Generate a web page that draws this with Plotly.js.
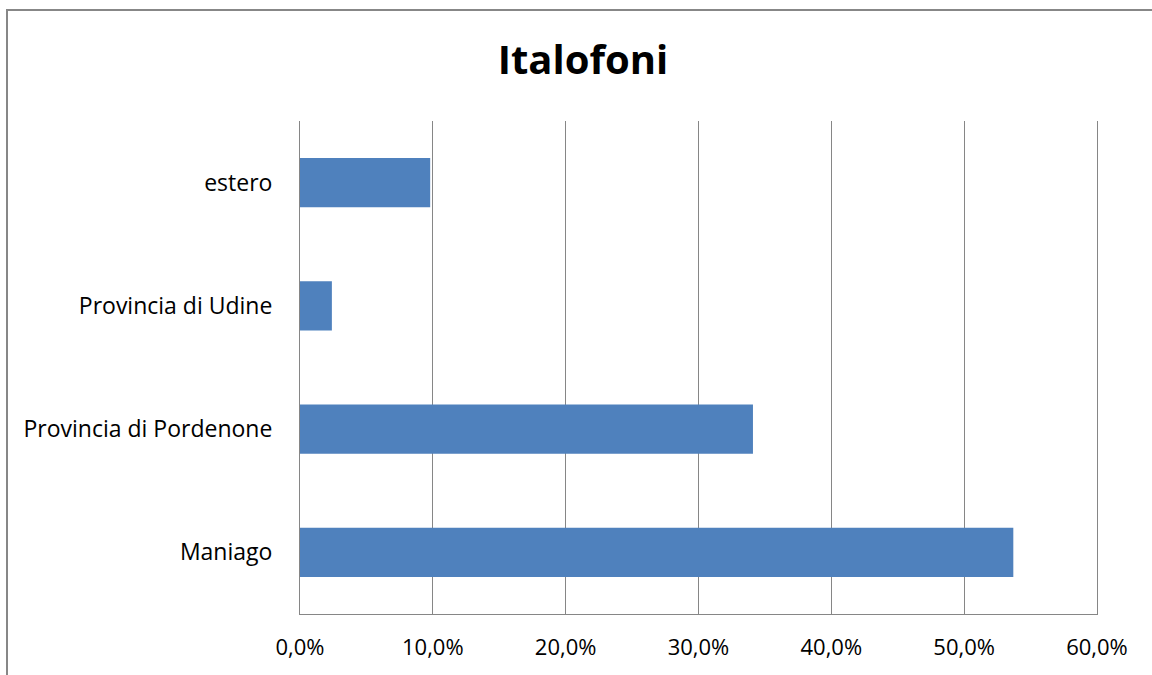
<!DOCTYPE html>
<html>
<head>
<meta charset="utf-8">
<script src="https://cdn.plot.ly/plotly-3.0.1.min.js"></script>
<style>
  html, body { margin: 0; padding: 0; background: #fff; }
  #chart { width: 1152px; height: 675px; }
  #frame { position: absolute; left: 6px; top: 9px; width: 1200px; height: 700px;
           border-left: 2px solid #878787; border-top: 2px solid #878787; pointer-events: none; }
</style>
</head>
<body>
<div id="chart"></div>
<div id="frame"></div>
<script>
const categories = ["Maniago", "Provincia di Pordenone", "Provincia di Udine", "estero"];
const values = [0.537, 0.341, 0.024, 0.098];
const xTicks = [0, 0.1, 0.2, 0.3, 0.4, 0.5, 0.6];
const chartTitle = "Italofoni";

const trace = {
  type: "bar",
  orientation: "h",
  y: categories,
  x: values,
  marker: { color: "#4F81BD", line: { width: 0 } },
  hoverinfo: "x+y"
};

const layout = {
  width: 1152,
  height: 675,
  margin: { l: 300, r: 55, t: 121, b: 61, pad: 0 },
  paper_bgcolor: "#ffffff",
  plot_bgcolor: "#ffffff",
  separators: ",.",
  showlegend: false,
  bargap: 0.6,
  font: { family: "Open Sans, sans-serif", size: 23, color: "#000000" },
  title: {
    text: "<b>" + chartTitle + "</b>",
    font: { family: "Open Sans, sans-serif", size: 40, color: "#000000" },
    x: 0.506, xanchor: "center",
    y: 1 - 60 / 675, yref: "container", yanchor: "middle"
  },
  xaxis: {
    range: [0, 0.6],
    tickvals: xTicks,
    tickformat: ".1%",
    showgrid: true,
    gridcolor: "#868686",
    gridwidth: 1,
    showline: true,
    linecolor: "#868686",
    linewidth: 1,
    zeroline: false,
    ticks: "",
    ticklabelstandoff: 14,
    tickfont: { size: 22, color: "#000000" },
    fixedrange: true
  },
  yaxis: {
    showgrid: false,
    showline: true,
    mirror: true,
    linecolor: "#868686",
    linewidth: 1,
    zeroline: false,
    ticks: "",
    ticklabelstandoff: 22,
    tickfont: { size: 23, color: "#000000" },
    fixedrange: true
  }
};

Plotly.newPlot("chart", [trace], layout, { displayModeBar: false, staticPlot: true });
</script>
</body>
</html>
